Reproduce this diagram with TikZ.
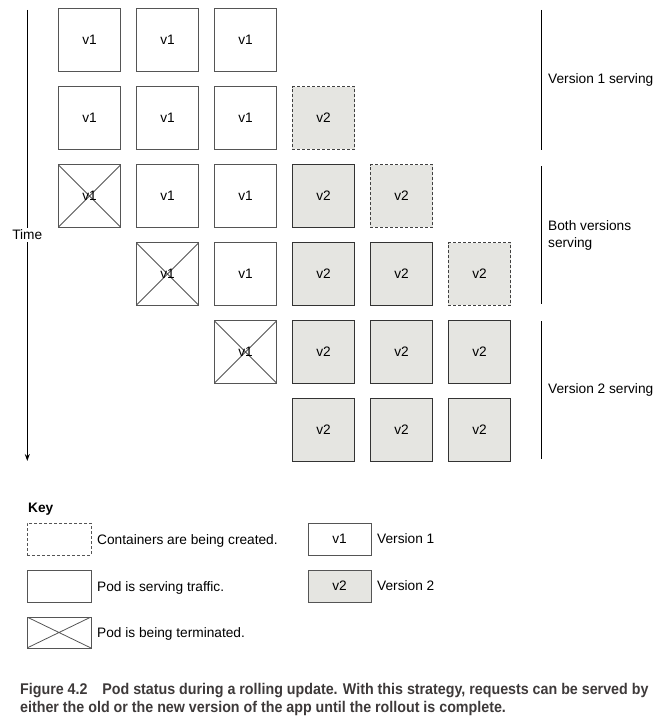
\documentclass[tikz,border=0pt]{standalone}
\usepackage{fontspec}
\setmainfont{Liberation Sans}
\newfontfamily\capfont[FakeStretch=0.92]{Liberation Sans}
\usetikzlibrary{positioning,arrows.meta}
\definecolor{PodGrey}{RGB}{229,229,225}
\definecolor{PodEdge}{RGB}{85,85,85}
\definecolor{CapText}{RGB}{62,58,58}

\begin{document}
\begin{tikzpicture}[x=1pt,y=-1pt,
    pod/.style={rectangle,draw=PodEdge,line width=1pt,minimum width=62.5pt,minimum height=62.5pt,outer sep=0pt,inner sep=0pt,font=\fontsize{13.7}{16}\selectfont},
    v2pod/.style={pod,fill=PodGrey,draw=black!80},
    newpod/.style={v2pod,dashed,dash pattern=on 3pt off 2pt,draw=black!75},
    killpod/.style={pod,path picture={\draw[line width=0.8pt] (path picture bounding box.north west) -- (path picture bounding box.south east) (path picture bounding box.south west) -- (path picture bounding box.north east);}},
    keybox/.style={pod,minimum width=64pt,minimum height=32pt},
    sidetext/.style={anchor=west,inner sep=0pt,font=\fontsize{13.7}{17}\selectfont,align=left},
    arrow/.style={-{Stealth[length=7pt,width=5pt]},line width=1pt}
]
\useasboundingbox (0,0) rectangle (667,717);

% Time axis
\coordinate (time-top) at (27.3,10);
\coordinate (time-end) at (27.3,461);
\draw[arrow] (time-top) -- (time-end);
\node[fill=white,inner sep=1.5pt,font=\fontsize{13.7}{16}\selectfont] (time) at (27.3,235) {Time};

% Row 1
\node[pod] (r1c1) at (89.5,40) {v1};
\node[pod,right=15.5pt of r1c1] (r1c2) {v1};
\node[pod,right=15.5pt of r1c2] (r1c3) {v1};

% Row 2
\node[pod,below=15.5pt of r1c1] (r2c1) {v1};
\node[pod,right=15.5pt of r2c1] (r2c2) {v1};
\node[pod,right=15.5pt of r2c2] (r2c3) {v1};
\node[newpod,right=15.5pt of r2c3] (r2c4) {v2};

% Row 3
\node[killpod,below=15.5pt of r2c1] (r3c1) {v1};
\node[pod,right=15.5pt of r3c1] (r3c2) {v1};
\node[pod,right=15.5pt of r3c2] (r3c3) {v1};
\node[v2pod,right=15.5pt of r3c3] (r3c4) {v2};
\node[newpod,right=15.5pt of r3c4] (r3c5) {v2};

% Row 4
\node[killpod,below=15.5pt of r3c2] (r4c2) {v1};
\node[pod,right=15.5pt of r4c2] (r4c3) {v1};
\node[v2pod,right=15.5pt of r4c3] (r4c4) {v2};
\node[v2pod,right=15.5pt of r4c4] (r4c5) {v2};
\node[newpod,right=15.5pt of r4c5] (r4c6) {v2};

% Row 5
\node[killpod,below=15.5pt of r4c3] (r5c3) {v1};
\node[v2pod,right=15.5pt of r5c3] (r5c4) {v2};
\node[v2pod,right=15.5pt of r5c4] (r5c5) {v2};
\node[v2pod,right=15.5pt of r5c5] (r5c6) {v2};

% Row 6
\node[v2pod,below=15.5pt of r5c4] (r6c4) {v2};
\node[v2pod,right=15.5pt of r6c4] (r6c5) {v2};
\node[v2pod,right=15.5pt of r6c5] (r6c6) {v2};

% Phases on the right
\coordinate (phase1-top) at (541.3,10);
\coordinate (phase1-end) at (541.3,149.5);
\coordinate (phase2-top) at (541.3,166);
\coordinate (phase2-end) at (541.3,304);
\coordinate (phase3-top) at (541.3,321);
\coordinate (phase3-end) at (541.3,459);
\draw[line width=1pt] (phase1-top) -- (phase1-end);
\draw[line width=1pt] (phase2-top) -- (phase2-end);
\draw[line width=1pt] (phase3-top) -- (phase3-end);
\node[sidetext] (phase1) at (548,80) {Version 1 serving};
\node[sidetext] (phase2) at (548,235) {Both versions\\serving};
\node[sidetext] (phase3) at (548,390) {Version 2 serving};

% Key
\node[sidetext,font=\fontsize{13.7}{16}\selectfont\bfseries] (key) at (28,509) {Key};
\node[keybox,dashed,dash pattern=on 3pt off 2pt] (key-created) at (59,539) {};
\node[keybox] (key-serving) at (59,586) {};
\node[keybox,killpod,minimum width=64pt,minimum height=31pt] (key-terminated) at (59,632.5) {};
\node[sidetext,right=6pt of key-created,yshift=-1.5pt] (txt-created) {Containers are being created.};
\node[sidetext,right=6pt of key-serving,yshift=-1.5pt] (txt-serving) {Pod is serving traffic.};
\node[sidetext,right=6pt of key-terminated,yshift=-1.5pt] (txt-terminated) {Pod is being terminated.};
\node[keybox,minimum width=63pt] (key-v1) at (339.5,539) {v1};
\node[keybox,fill=PodGrey,minimum width=63pt] (key-v2) at (339.5,586) {v2};
\node[sidetext,right=6pt of key-v1] (txt-v1) {Version 1};
\node[sidetext,right=6pt of key-v2] (txt-v2) {Version 2};

% Caption
\node[anchor=west,inner sep=0pt,align=left,text=CapText,font=\capfont\bfseries\fontsize{15.5}{18}\selectfont] (caption) at (20,699)
  {Figure 4.2\hspace{0.7em} Pod status during a rolling update. With this strategy, requests can be served by\\either the old or the new version of the app until the rollout is complete.};

\end{tikzpicture}
\end{document}
